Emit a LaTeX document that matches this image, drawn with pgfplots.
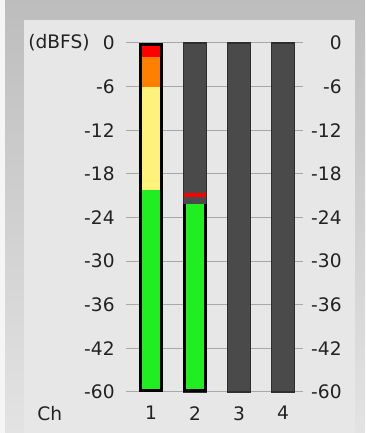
\documentclass[border=0pt]{standalone}
\usepackage{pgfplots}
\pgfplotsset{compat=1.18}
\usepackage{fontspec}
\setmainfont{DejaVu Sans}
\definecolor{outertop}{HTML}{BDBDBD}
\definecolor{outerbot}{HTML}{E3E3E3}
\definecolor{panel}{HTML}{E7E7E7}
\definecolor{gridc}{HTML}{A8A8A8}
\definecolor{dgray}{HTML}{4A4A4A}
\definecolor{edgec}{HTML}{2E2E2E}
\definecolor{mgreen}{HTML}{20EE20}
\definecolor{myellow}{HTML}{FFF27C}
\definecolor{morange}{HTML}{FF8000}
\definecolor{mred}{HTML}{FF0000}
\definecolor{txt}{HTML}{222222}
\newcommand{\lblfont}{\fontsize{9.3}{11}\selectfont}
\pgfplotsset{
  meter/.style={
    scale only axis,
    x=22pt, y=21.8125pt,
    xmin=0.432, xmax=4.455,
    ymin=-60, ymax=0,
    y coord trafo/.code={\pgfmathparse{##1>=-42 ? ##1/6 : -7+(##1+42)/18}},
    y coord inv trafo/.code={\pgfmathparse{##1>=-7 ? ##1*6 : -42+(##1+7)*18}},
    ytick={0,-6,-12,-18,-24,-30,-36,-42,-60},
    yticklabels={0,-6,-12,-18,-24,-30,-36,-42,-60},
    major tick length=0pt,
    axis line style={draw=none},
    tick label style={font=\lblfont, text=txt},
    clip=false,
  }
}
\begin{document}
\begin{tikzpicture}
\useasboundingbox (0,0) rectangle (182.5pt,216.5pt);
\fill[white!96!black] (0,0) rectangle (182.5pt,216.5pt);
\shade[top color=outertop, bottom color=outerbot] (2.5pt,0) rectangle (182.5pt,216.5pt);
\fill[panel] (12pt,0) rectangle (177.5pt,206.5pt);

\begin{axis}[meter,
  at={(63pt,20.5pt)}, anchor=south west,
  ymajorgrids, major grid style={color=gridc, line width=0.5pt},
  xtick={1,2,3,4}, xticklabels={1,2,3,4},
  xticklabel style={anchor=north, inner sep=0pt, yshift=-7pt},
  yticklabel style={anchor=east, inner sep=0pt, xshift=-5.5pt},
]
% channel 1: level segments
\addplot[fill=mgreen, draw=none] coordinates {(0.761,-60) (1.239,-60) (1.239,-20.2) (0.761,-20.2)} --cycle;
\addplot[fill=myellow, draw=none] coordinates {(0.761,-20.2) (1.239,-20.2) (1.239,-6) (0.761,-6)} --cycle;
\addplot[fill=morange, draw=none] coordinates {(0.761,-6) (1.239,-6) (1.239,-1.9) (0.761,-1.9)} --cycle;
\addplot[fill=mred, draw=none] coordinates {(0.761,-1.9) (1.239,-1.9) (1.239,0) (0.761,0)} --cycle;
\addplot[draw=black, line width=1.6pt] coordinates {(0.761,-59.35) (1.239,-59.35) (1.239,-0.25) (0.761,-0.25)} --cycle;
% channel 2
\addplot[fill=dgray, draw=edgec, line width=0.6pt] coordinates {(1.734,-60) (2.266,-60) (2.266,0) (1.734,0)} --cycle;
\addplot[fill=mgreen, draw=none] coordinates {(1.761,-60) (2.239,-60) (2.239,-22.2) (1.761,-22.2)} --cycle;
\addplot[draw=black, line width=1.6pt] coordinates {(1.761,-22.2) (1.761,-59.35) (2.239,-59.35) (2.239,-22.2)};
\addplot[draw=mred, line width=1.8pt] coordinates {(1.74,-20.9) (2.26,-20.9)};
% channels 3 and 4
\addplot[fill=dgray, draw=edgec, line width=0.6pt] coordinates {(2.734,-60) (3.266,-60) (3.266,0) (2.734,0)} --cycle;
\addplot[fill=dgray, draw=edgec, line width=0.6pt] coordinates {(3.734,-60) (4.266,-60) (4.266,0) (3.734,0)} --cycle;
\end{axis}

\begin{axis}[meter,
  at={(63pt,20.5pt)}, anchor=south west,
  xtick=\empty,
  yticklabel pos=right,
  yticklabel style={anchor=east, inner sep=0pt, xshift=19.5pt},
]
\addplot[draw=none] coordinates {(1,-60)};
\end{axis}

\node[anchor=west, inner sep=0pt, text=txt, font=\lblfont] at (14pt,195pt) {(dBFS)};
\node[anchor=base west, inner sep=0pt, text=txt, font=\lblfont] at (18.5pt,6pt) {Ch};
\end{tikzpicture}
\end{document}
